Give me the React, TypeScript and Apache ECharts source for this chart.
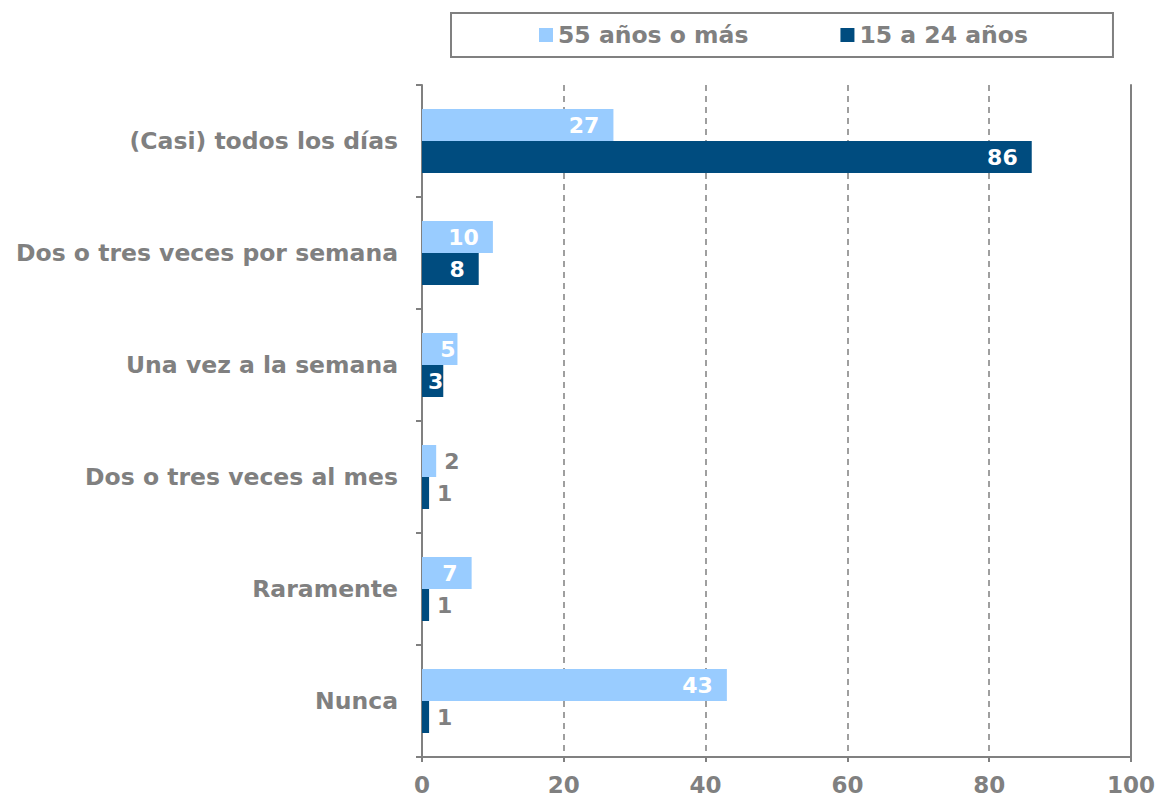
import React, { useEffect, useRef } from "react";
import * as echarts from "echarts";

const categories = [
  "(Casi) todos los días",
  "Dos o tres veces por semana",
  "Una vez a la semana",
  "Dos o tres veces al mes",
  "Raramente",
  "Nunca",
];
const series55 = [27, 10, 5, 2, 7, 43];
const series15 = [86, 8, 3, 1, 1, 1];
const xTicks = [0, 20, 40, 60, 80, 100];

const GRAY = "#808080";
const FONT = "DejaVu Sans";

function makeData(vals: number[]) {
  return vals.map((v) => ({
    value: v,
    label:
      v >= 3
        ? {
            position: "insideRight",
            color: "#ffffff",
            distance: v >= 7 ? 14 : v >= 5 ? 2 : 0,
          }
        : { position: "right", color: GRAY, distance: 8 },
  }));
}

export default function App() {
  const ref = useRef<HTMLDivElement>(null);
  useEffect(() => {
    const chart = echarts.init(ref.current!, null, { renderer: "svg" });
    chart.setOption({
      animation: false,
      textStyle: { fontFamily: FONT },
      legend: {
        left: 451,
        top: 13,
        padding: [10, 85, 10, 88],
        itemGap: 92,
        itemWidth: 14,
        itemHeight: 14,
        borderColor: GRAY,
        borderWidth: 2,
        icon: "rect",
        textStyle: {
          color: GRAY,
          fontSize: 23.5,
          lineHeight: 24,
          fontWeight: "bold",
          fontFamily: FONT,
        },
        data: ["55 años o más", "15 a 24 años"],
      },
      grid: { left: 422, right: 32, top: 85, bottom: 43, containLabel: false },
      xAxis: {
        type: "value",
        min: xTicks[0],
        max: xTicks[xTicks.length - 1],
        interval: 20,
        axisLine: { show: true, lineStyle: { color: GRAY, width: 2 } },
        axisTick: { show: true, length: 5, lineStyle: { color: GRAY, width: 2 } },
        axisLabel: { color: GRAY, fontSize: 23, fontWeight: "bold", margin: 16, fontFamily: FONT },
        splitLine: { show: true, lineStyle: { color: GRAY, type: [6, 5], width: 1.5 } },
      },
      yAxis: [
        {
          type: "category",
          data: categories,
          inverse: true,
          axisLine: { show: true, lineStyle: { color: GRAY, width: 2 } },
          axisTick: { show: true, length: 6, lineStyle: { color: GRAY, width: 2 } },
          axisLabel: { color: GRAY, fontSize: 23.5, fontWeight: "bold", margin: 24, fontFamily: FONT },
        },
        {
          type: "category",
          data: categories,
          inverse: true,
          position: "right",
          axisLine: { show: true, lineStyle: { color: GRAY, width: 2 } },
          axisTick: { show: false },
          axisLabel: { show: false },
        },
      ],
      series: [
        {
          name: "55 años o más",
          type: "bar",
          data: makeData(series55),
          barWidth: 32,
          barGap: "0%",
          itemStyle: { color: "#99CCFF" },
          label: { show: true, fontSize: 22, fontWeight: "bold", fontFamily: FONT },
        },
        {
          name: "15 a 24 años",
          type: "bar",
          data: makeData(series15),
          barWidth: 32,
          barGap: "0%",
          itemStyle: { color: "#004C7F" },
          label: { show: true, fontSize: 22, fontWeight: "bold", fontFamily: FONT },
        },
      ],
    });
    return () => chart.dispose();
  }, []);
  return (
    <div
      ref={ref}
      style={{ position: "fixed", left: 0, top: 0, width: 1163, height: 800, background: "#fff" }}
    />
  );
}
